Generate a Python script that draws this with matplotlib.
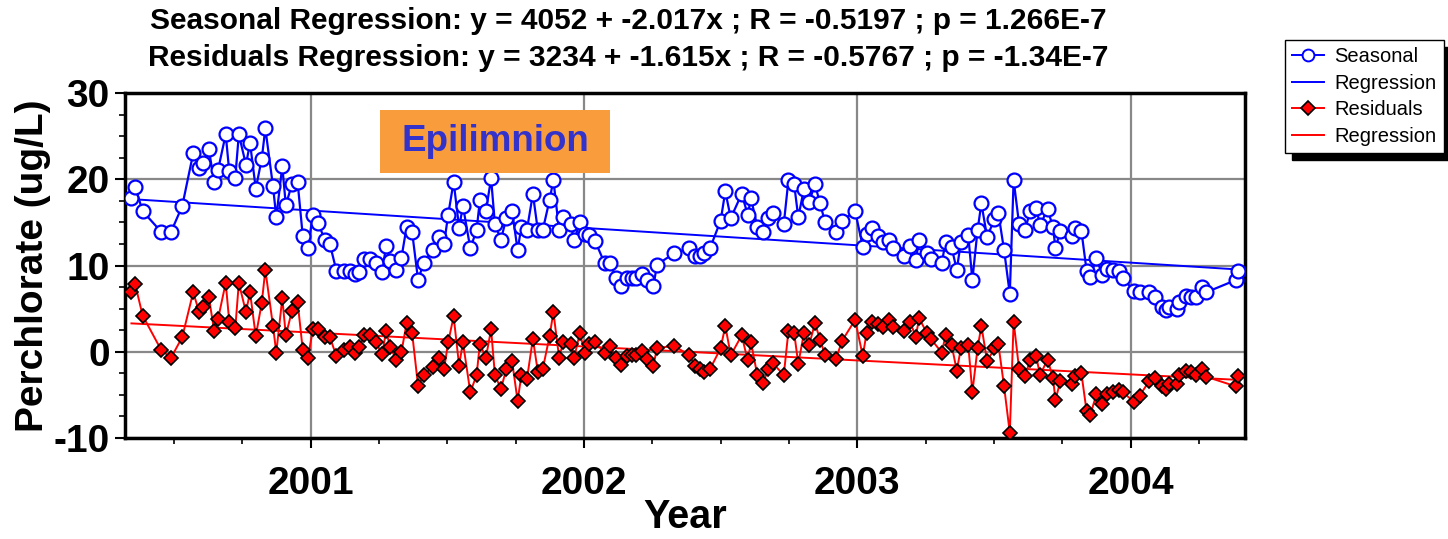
import numpy as np
import matplotlib
matplotlib.use("Agg")
import matplotlib.pyplot as plt
from matplotlib.patches import Rectangle
from matplotlib.lines import Line2D
from matplotlib.ticker import MultipleLocator

# ---- data (decimal year) ----
years = [
    2000.344, 2000.358, 2000.385, 2000.453, 2000.489, 2000.530, 2000.570, 2000.592, 2000.606, 2000.627,
    2000.647, 2000.661, 2000.689, 2000.702, 2000.724, 2000.737, 2000.763, 2000.778, 2000.799, 2000.821,
    2000.834, 2000.862, 2000.874, 2000.896, 2000.909, 2000.931, 2000.952, 2000.971, 2000.990, 2001.008,
    2001.027, 2001.053, 2001.070, 2001.094, 2001.121, 2001.143, 2001.161, 2001.178, 2001.196, 2001.218,
    2001.239, 2001.261, 2001.276, 2001.291, 2001.313, 2001.332, 2001.351, 2001.371, 2001.393, 2001.413,
    2001.446, 2001.469, 2001.488, 2001.503, 2001.523, 2001.543, 2001.557, 2001.584, 2001.607, 2001.619,
    2001.641, 2001.660, 2001.674, 2001.696, 2001.716, 2001.737, 2001.757, 2001.771, 2001.791, 2001.813,
    2001.831, 2001.849, 2001.874, 2001.888, 2001.909, 2001.924, 2001.951, 2001.964, 2001.985, 2002.002,
    2002.020, 2002.041, 2002.075, 2002.095, 2002.118, 2002.137, 2002.157, 2002.175, 2002.190, 2002.212,
    2002.231, 2002.254, 2002.267, 2002.329, 2002.385, 2002.406, 2002.424, 2002.439, 2002.461, 2002.500,
    2002.517, 2002.537, 2002.577, 2002.599, 2002.611, 2002.634, 2002.656, 2002.674, 2002.690, 2002.731,
    2002.748, 2002.769, 2002.784, 2002.805, 2002.824, 2002.845, 2002.864, 2002.882, 2002.922, 2002.945,
    2002.992, 2003.020, 2003.034, 2003.055, 2003.075, 2003.095, 2003.116, 2003.130, 2003.171, 2003.193,
    2003.214, 2003.226, 2003.254, 2003.269, 2003.309, 2003.323, 2003.345, 2003.364, 2003.379, 2003.406,
    2003.421, 2003.440, 2003.454, 2003.475, 2003.502, 2003.516, 2003.537, 2003.558, 2003.572, 2003.592,
    2003.614, 2003.632, 2003.654, 2003.669, 2003.696, 2003.716, 2003.725, 2003.743, 2003.784, 2003.798,
    2003.820, 2003.839, 2003.853, 2003.875, 2003.896, 2003.914, 2003.936, 2003.956, 2003.972, 2004.012,
    2004.033, 2004.068, 2004.089, 2004.115, 2004.130, 2004.142, 2004.171, 2004.178, 2004.203, 2004.221,
    2004.240, 2004.261, 2004.277, 2004.384, 2004.392,
]

seasonal = [
    17.8, 19.1, 16.3, 13.9, 13.9, 16.9, 23.0, 21.3, 21.9, 23.5,
    19.7, 21.1, 25.2, 20.9, 20.2, 25.2, 21.7, 24.2, 18.9, 22.4,
    25.9, 19.2, 15.6, 21.5, 17.0, 19.4, 19.7, 13.4, 12.0, 15.9,
    14.9, 12.9, 12.5, 9.4, 9.4, 9.4, 9.0, 9.2, 10.7, 10.7,
    10.3, 9.2, 12.3, 10.5, 9.5, 10.9, 14.5, 13.9, 8.3, 10.3,
    11.8, 13.3, 12.5, 15.9, 19.7, 14.4, 16.9, 12.0, 14.1, 17.6,
    16.3, 20.1, 14.8, 13.0, 15.5, 16.3, 11.8, 14.5, 14.1, 18.3,
    14.1, 14.1, 17.6, 19.9, 14.1, 15.6, 14.8, 12.9, 15.0, 13.7,
    13.5, 12.8, 10.3, 10.3, 8.5, 7.6, 8.5, 8.5, 8.5, 9.0,
    8.3, 7.6, 10.1, 11.4, 12.0, 11.1, 11.1, 11.4, 12.0, 15.2,
    18.6, 15.5, 18.3, 15.9, 17.8, 14.5, 13.9, 15.5, 16.1, 14.8,
    19.9, 19.4, 15.6, 18.9, 17.4, 19.4, 17.2, 15.0, 13.9, 15.2,
    16.3, 12.2, 13.7, 14.4, 13.4, 12.7, 12.9, 12.0, 11.1, 12.3,
    10.6, 12.9, 11.5, 10.8, 10.3, 12.7, 12.1, 9.5, 12.7, 13.5,
    8.3, 14.1, 17.2, 13.3, 15.4, 16.1, 11.8, 6.7, 19.9, 14.8,
    14.1, 16.3, 16.7, 14.7, 16.5, 14.5, 12.0, 14.0, 13.4, 14.3,
    14.0, 9.4, 8.7, 10.9, 8.9, 9.6, 9.5, 9.4, 8.5, 7.1,
    6.9, 6.9, 6.4, 5.2, 4.8, 5.2, 5.0, 5.8, 6.5, 6.4,
    6.4, 7.5, 6.9, 8.3, 9.4,
]

residuals = [
    6.9, 7.8, 4.2, 0.2, -0.7, 1.7, 6.9, 4.6, 5.2, 6.4,
    2.4, 3.8, 8.0, 3.5, 2.7, 8.0, 4.6, 6.9, 1.8, 5.7,
    9.5, 3.0, -0.1, 6.2, 1.9, 4.7, 5.8, 0.2, -0.7, 2.6,
    2.6, 1.7, 1.7, -0.5, 0.2, 0.5, -0.1, 0.5, 2.0, 2.0,
    1.1, -0.3, 2.4, 0.5, -0.9, 0.0, 3.3, 2.2, -4.0, -2.7,
    -1.8, -0.7, -2.0, 1.1, 4.1, -1.6, 1.1, -4.7, -2.7, 0.9,
    -0.7, 2.6, -2.7, -4.3, -2.0, -1.1, -5.7, -2.7, -3.2, 1.5,
    -2.3, -2.0, 1.8, 4.6, -0.7, 1.1, 0.9, -0.7, 2.2, -0.1,
    0.9, 1.1, -0.1, 0.7, -0.7, -1.5, -0.5, -0.4, -0.4, 0.1,
    -0.8, -1.6, 0.4, 0.7, -0.4, -1.6, -2.0, -2.4, -2.0, 0.4,
    3.0, -0.4, 1.9, -1.0, 1.1, -2.7, -3.6, -2.0, -1.3, -2.7,
    2.4, 2.2, -1.4, 2.2, 0.8, 3.3, 1.4, -0.4, -0.8, 1.3,
    3.7, -0.5, 2.2, 3.5, 3.2, 2.9, 3.7, 2.9, 2.4, 3.5,
    1.7, 3.9, 2.2, 1.5, -0.1, 1.9, 0.8, -2.2, 0.4, 0.8,
    -4.7, 0.4, 3.0, -1.1, 0.4, 0.9, -4.0, -9.4, 3.5, -2.0,
    -2.8, -1.0, -0.5, -2.7, -0.9, -3.0, -5.6, -3.4, -3.7, -2.8,
    -2.5, -6.9, -7.3, -4.9, -6.1, -4.9, -4.7, -4.4, -4.7, -5.8,
    -5.1, -3.4, -3.0, -4.0, -4.3, -3.7, -3.7, -2.7, -2.2, -2.4,
    -2.7, -2.0, -2.9, -4.0, -2.8,
]

year_ticks = [2001, 2002, 2003, 2004]
y_ticks = [-10, 0, 10, 20, 30]
title_lines = [
    "Seasonal Regression: y = 4052 + -2.017x ; R = -0.5197 ; p = 1.266E-7",
    "Residuals Regression: y = 3234 + -1.615x ; R = -0.5767 ; p = -1.34E-7",
]

x = np.array(years)
s = np.array(seasonal)
r = np.array(residuals)
s_fit = np.polyval(np.polyfit(x, s, 1), x)
r_fit = np.polyval(np.polyfit(x, r, 1), x)

plt.rcParams['font.family'] = ['Liberation Sans', 'DejaVu Sans']
plt.rcParams['axes.unicode_minus'] = False

fig = plt.figure(figsize=(14.48, 5.39), dpi=100)
ax = fig.add_axes([125/1448, 1-438/539, 1120/1448, 345/539])

blue = '#0000FF'
red = '#FF0000'

ax.plot(x, s, '-', color=blue, lw=1.6, marker='o', ms=10, mfc='white',
        mec=blue, mew=1.6, zorder=4)
ax.plot(x, s_fit, '-', color=blue, lw=1.4, zorder=3)
ax.plot(x, r, '-', color=red, lw=1.4, marker='D', ms=7.5, mfc=red,
        mec='black', mew=1.2, zorder=4)
ax.plot(x, r_fit, '-', color=red, lw=1.4, zorder=3)

ax.set_xlim(2000.3205, 2004.4186)
ax.set_ylim(-10, 30)
ax.set_xticks(year_ticks)
ax.set_xticklabels([str(v) for v in year_ticks])
ax.set_yticks(y_ticks)
ax.set_yticklabels([str(v) for v in y_ticks])
ax.xaxis.set_minor_locator(MultipleLocator(0.25))
ax.yaxis.set_minor_locator(MultipleLocator(2.5))
ax.grid(True, which='major', color='#888888', lw=1.6, zorder=0)
ax.set_axisbelow(True)
ax.tick_params(which='major', direction='out', length=7, width=1.5,
               labelsize=28)
ax.tick_params(axis='x', which='major', pad=13)
ax.tick_params(axis='y', which='major', pad=4)
ax.tick_params(which='minor', direction='out', length=4, width=1.2)
for lab in ax.get_xticklabels() + ax.get_yticklabels():
    lab.set_fontweight('bold')
for sp in ax.spines.values():
    sp.set_linewidth(2.5)
    sp.set_color('black')

ax.set_xlabel('Year', fontsize=28.5, fontweight='bold', labelpad=-3)
ax.set_ylabel('Perchlorate (ug/L)', fontsize=28, fontweight='bold')
ax.yaxis.set_label_coords(-0.066, 0.5)

# Epilimnion label
ax.add_patch(Rectangle((0.2277, 0.768), 0.2053, 0.183, transform=ax.transAxes,
                       facecolor='#F99D3C', edgecolor='none', zorder=5))
ax.text(0.3303, 0.86, 'Epilimnion', transform=ax.transAxes, ha='center',
        va='center', fontsize=26.5, fontweight='bold', color='#3333CC', zorder=6)

# titles
fig.text(628/1448, 1-21/539, title_lines[0], ha='center', va='center',
         fontsize=21.5, fontweight='bold')
fig.text(628/1448, 1-58/539, title_lines[1], ha='center', va='center',
         fontsize=21.5, fontweight='bold')

handles = [
    Line2D([], [], color=blue, lw=1.4, marker='o', ms=8.5, mfc='white', mec=blue, mew=1.4),
    Line2D([], [], color=blue, lw=1.4),
    Line2D([], [], color=red, lw=1.4, marker='D', ms=7.5, mfc=red, mec='black', mew=1.2),
    Line2D([], [], color=red, lw=1.4),
]
labels = ['Seasonal', 'Regression', 'Residuals', 'Regression']
leg = fig.legend(handles, labels, loc='upper left',
                 bbox_to_anchor=(1285/1448, 1-40/539), bbox_transform=fig.transFigure,
                 fontsize=14.5, frameon=True, fancybox=False, edgecolor='black',
                 borderaxespad=0, handlelength=1.6, handletextpad=0.5,
                 labelspacing=0.38, borderpad=0.35,
                 shadow={'color': 'black', 'alpha': 1, 'ox': 5, 'oy': -5})
leg.get_frame().set_linewidth(1.0)

fig.savefig('out.png', dpi=100)
